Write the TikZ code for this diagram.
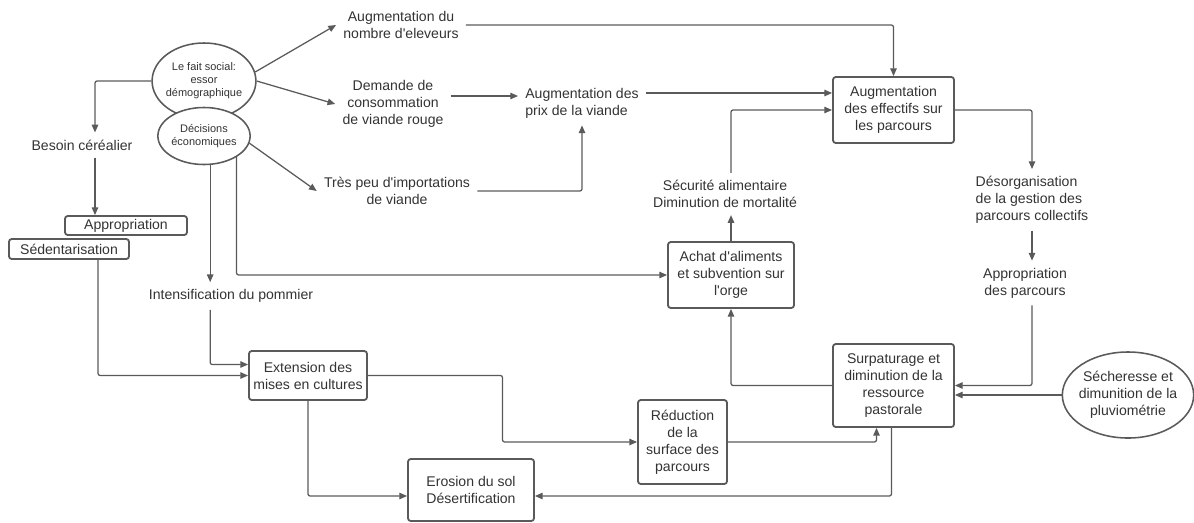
\documentclass[tikz,border=0pt]{standalone}
\usepackage{fontspec}
\setmainfont{Liberation Sans}[Ligatures=TeXOff]
\usepackage{tikz}
\usetikzlibrary{calc}
\usetikzlibrary{shapes,arrows,arrows.meta}
\definecolor{linegray}{HTML}{5A5A5A}
\definecolor{textgray}{HTML}{333333}

\begin{document}
\begin{tikzpicture}[x=0.025cm, y=-0.025cm, >={Triangle[length=5.5pt,width=4.6pt]}, font=\fontsize{10}{12.1}\selectfont, text=textgray]

\tikzstyle{box}=[draw=linegray, line width=1.3pt, rounded corners=2pt, align=center, inner sep=2pt]
\tikzstyle{annot}=[align=center, inner sep=5pt]
\tikzstyle{bubble}=[ellipse, draw=linegray, line width=1.1pt, fill=white, align=center, inner sep=0pt]
\tikzstyle{link}=[->, draw=linegray, line width=0.9pt, rounded corners=1.5pt]

\useasboundingbox (0,0) rectangle (1194,522);

% causes
\node[bubble, minimum width=2.55cm, minimum height=1.9cm, inner xsep=-1pt, font=\fontsize{7.8}{9.3}\selectfont] (fait) at (204,81) {Le fait social:\\essor\\démographique};
\node[bubble, minimum width=2.3cm, minimum height=1.425cm, font=\fontsize{7.8}{9.3}\selectfont] (decis) at (204,136) {Décisions\\économiques};
\node[bubble, minimum width=3.25cm, minimum height=2.15cm, inner xsep=-2pt] (sech) at (1128,395) {Sécheresse et\\dimunition de la\\pluviométrie};

% texts
\node[annot] (nombre) at (401,25) {Augmentation du\\nombre d'eleveurs};
\node[annot] (demande) at (393,104) {Demande de\\consommation\\de viande rouge};
\node[annot, align=left] (prix) at (582,103) {Augmentation des\\prix de la viande};
\node[annot] (tres) at (397,191) {Très peu d'importations\\de viande};
\node[annot] (besoin) at (82,145) {Besoin céréalier};
\node[annot] (intensif) at (231,296) {Intensification du pommier};
\node[annot] (secu) at (725,194) {Sécurité alimentaire\\Diminution de mortalité};
\node[annot, align=left] (desorg) at (1032,200) {Désorganisation\\de la gestion des\\parcours collectifs};
\node[annot] (apparc) at (1025,283) {Appropriation\\des parcours};

% boxes
\node[box, minimum width=3.05cm, minimum height=0.475cm] (appro) at (126,225.5) {Appropriation};
\node[box, minimum width=3cm, minimum height=0.5cm] (sedent) at (69,249) {Sédentarisation};
\node[box, minimum width=3.025cm, minimum height=1.65cm] (effectifs) at (893.5,110) {Augmentation\\des effectifs sur\\les parcours};
\node[box, minimum width=3.15cm, minimum height=1.65cm] (achat) at (731,275) {Achat d'aliments\\et subvention sur\\l'orge};
\node[box, minimum width=3.025cm, minimum height=2.075cm] (surpat) at (893.5,385.5) {Surpaturage et\\diminution de la\\ressource\\pastorale};
\node[box, minimum width=2.225cm, minimum height=2.1cm] (reduc) at (682.5,442) {Réduction\\de la\\surface des\\parcours};
\node[box, minimum width=2.95cm, minimum height=1.225cm] (ext) at (308,375.5) {Extension des\\mises en cultures};
\node[box, minimum width=3.15cm, minimum height=1.55cm] (erosion) at (471,490) {Erosion du sol\\Désertification};

% helper points
\coordinate (cB) at ($(besoin.north)+(13,0)$);
\coordinate (cS) at ($(sedent.south)+(29,0)$);
\coordinate (p1) at ($(prix.west)+(0,-7)$);
\coordinate (e1) at ($(effectifs.west)+(0,-17)$);
\coordinate (x1) at ($(ext.west)+(0,-11)$);
\coordinate (m1) at ($(ext.east)!0.5!(reduc.west)$);
\coordinate (s1) at ($(surpat.south)+(-17,0)$);
\coordinate (s2) at ($(surpat.south)+(-2,0)$);
\coordinate (r1) at ($(erosion.west)+(0,6)$);
\coordinate (r2) at ($(erosion.east)+(0,6)$);

\draw[link] (fait.10) -- (nombre.west);
\draw[link] (fait.east) -- (demande.west);
\draw[link] (decis.-9) -- (tres.west);
\draw[link] (fait.west) -| (cB);
\draw[link] (cB |- besoin.south) -- (cB |- appro.north);
\draw[link] (cS) |- (ext.west);
\draw[link] (decis.-78) -- (decis.-78 |- intensif.north);
\draw[link] (decis.-78 |- intensif.south) |- (x1);
\draw[link] (decis.-33) |- (achat.west);

\draw[link] (demande.east |- p1) -- (p1);
\draw[link] (tres.east) -| (prix.south);
\draw[link] (prix.east |- e1) -- (e1);
\draw[link] (nombre.east) -| (effectifs.north);
\draw[link] (achat.north) -- (achat.north |- secu.south);
\draw[link] (achat.north |- secu.north) |- (effectifs.west);
\draw[link] (effectifs.east) -| (desorg.north);
\draw[link] (desorg.south) -- (desorg.south |- apparc.north);
\draw[link] (desorg.south |- apparc.south) |- (surpat.east);
\draw[link] (sech.west) -- (sech.west -| surpat.east);
\draw[link] (surpat.west) -| (achat.south);

\draw[link] (ext.east) -| (m1 |- reduc.west) -- (reduc.west);
\draw[link] (reduc.east) -| (s1);
\draw[link] (ext.south) |- (r1);
\draw[link] (s2) |- (r2);

\end{tikzpicture}
\end{document}
